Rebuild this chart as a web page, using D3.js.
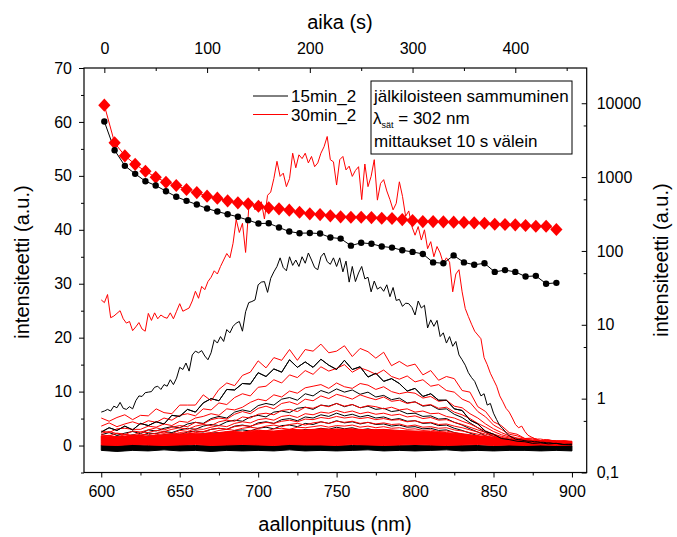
<!DOCTYPE html>
<html>
<head>
<meta charset="utf-8">
<script src="https://cdn.jsdelivr.net/npm/d3@7"></script>
<style>
  body { margin: 0; background: #fff; }
  svg { display: block; }
  text { font-family: "Liberation Sans", Arial, sans-serif; fill: #000; }
</style>
</head>
<body>
<svg id="chart" width="677" height="537"></svg>
<script>
// ---------- wavelength grids (nm) ----------
const wavelengthFine = [600,602,604,606,608,610,612,614,616,618,620,622,624,626,628,630,632,634,636,638,
  640,642,644,646,648,650,652,654,656,658,660,662,664,666,668,670,672,674,676,678,
  680,682,684,686,688,690,692,694,696,698,700,702,704,706,708,710,712,714,716,718,
  720,722,724,726,728,730,732,734,736,738,740,742,744,746,748,750,752,754,756,758,
  760,762,764,766,768,770,772,774,776,778,780,782,784,786,788,790,792,794,796,798,
  800,802,804,806,808,810,812,814,816,818,820,822,824,826,828,830,832,834,836,838,
  840,842,844,846,848,850,852,854,856,858,860,862,864,866,868,870,872,874,876,878,
  880,882,884,886,888,890,892,894,896,898,900];
const wavelength5 = [600,605,610,615,620,625,630,635,640,645,650,655,660,665,670,675,680,685,690,695,
  700,705,710,715,720,725,730,735,740,745,750,755,760,765,770,775,780,785,790,795,
  800,805,810,815,820,825,830,835,840,845,850,855,860,865,870,875,880,885,890,895,900];
const wavelength10 = [600,610,620,630,640,650,660,670,680,690,700,710,720,730,740,750,
  760,770,780,790,800,810,820,830,840,850,860,870,880,890,900];

// ---------- first spectra of each run (a.u.) ----------
const spec30_first = [27,26.5,28,23.7,24,24.5,25,23.5,22.7,23,
  21.3,22,22.8,21.6,21.2,24.5,23.2,24.6,23.5,24.2,
  23.8,23.6,24.6,23.5,24.9,26.3,24.9,25.2,25.5,26.8,
  28.6,27.3,29.5,28.9,30.4,31.2,32.4,31.8,33.2,34.4,
  35.6,34.8,37.5,41.9,39.5,41.2,35.8,44,45.2,43.7,
  44.6,45.2,42,46.4,47,49.5,52.7,49.9,50.5,48,
  49.5,54.2,51.5,53.9,53.2,54.2,52.4,53.6,51.7,52.4,
  54.2,55.4,57.3,53,52.6,48.3,53,53.6,51.1,51.8,
  49.9,51,51.7,45.6,52.2,48,49.9,53,45.5,48.6,
  49.3,47.2,45.6,43.7,44.9,48.9,46.2,42.5,43.5,40.6,
  39,40.6,38.1,40,36.5,37.8,35,36.9,35.7,33.8,
  34.8,34,28.5,31.8,32.6,28.5,25.4,23.9,22.5,21.2,
  20.5,19.8,16.3,15,13.4,12.2,11,9.2,8.1,6.9,
  6.2,5.1,3.9,3.3,3.6,2.6,1.9,1.6,1.3,1.2,
  1.2,1.1,1.1,1,0.9,0.8,0.8,0.7,0.6,0.5,
  0.5];
const spec15_first = [6.2,6.4,6.7,6.4,7.3,7,8,6.9,6.7,7.2,
  6.8,8.3,9.2,9.1,9.8,9.9,10,10.8,11,10.4,
  11.3,11,12.2,11.3,12.5,14.5,14.1,15.3,13.8,16.8,
  17.5,17.2,17.6,16.6,15.9,17.2,19.6,19,20.2,19.3,
  21.5,20.9,22.1,22.7,23,21.2,24.8,26.5,26.7,27,
  29.8,30.3,30.4,28.4,31,32.2,33.2,34.8,33,32.4,
  35,33.4,34.4,33.2,35,33.8,35.7,34.4,33,32.6,
  35,35.7,34.1,33.6,34.8,33.2,34.8,32.2,34.2,30.3,
  33.2,30.4,32,33.2,30.9,31.2,28.5,30.5,29,29.4,
  28.6,29.8,27.6,29.3,26.9,27.1,25.8,26.4,26.3,25.6,
  24.2,26.8,25.5,26,21.8,23.3,22.1,23.2,20.2,20.9,
  19,20.2,18.4,19.3,16.8,15.9,14.9,13.5,12.6,11.9,
  10.5,9.2,9.6,7.5,7.8,6,4.8,3.7,3.1,2.4,
  1.8,1.5,1.2,1.1,1,0.9,0.8,0.8,0.7,0.7,
  0.6,0.6,0.5,0.5,0.4,0.4,0.3,0.2,0.2,0.2,
  0.2];

// ---------- later spectra, 30min_2 (5 nm steps) ----------
const spec30_b = [5.1,4.5,5.2,5.7,4.8,5.6,5.5,6.8,6.1,5.9, 7.5,7.5,7.5,9.4,8.3,10.4,11.6,11.1,13.0,13.6,
  15.7,14.4,16.3,15.8,17.8,15.8,17.8,17.5,18.8,17.2, 17.5,18.5,16.5,18.0,17.4,16.2,17.3,14.8,15.6,14.7,
  15.1,13.1,13.9,12.1,12.8,12.4,10.2,9.9,7.2,6.3, 4.4,3.7,2.4,2.1,1.3,1.4,0.9,1.0,0.7,0.9, 0.7];
const spec30_c = [3.6,4.2,3.5,4.0,4.4,3.9,4.6,4.3,5.1,4.7, 5.6,5.9,5.5,6.8,6.6,7.9,7.6,8.9,9.6,9.2,
  10.8,11.0,12.2,11.6,13.1,12.6,13.9,13.2,14.6,13.8, 14.3,15.0,13.6,14.4,13.9,13.2,14.0,12.8,12.3,12.9,
  11.8,12.2,11.0,11.3,10.2,9.9,8.6,8.0,6.3,5.3, 3.8,3.0,2.1,1.8,1.3,1.2,0.9,1.0,0.8,0.8, 0.7];
const spec30_d = [2.7,2.4,3.1,3.2,3.0,3.0,3.6,3.4,4.0,3.7, 4.5,4.3,5.1,5.4,5.9,5.6,6.8,6.6,7.1,8.0,
  8.6,8.3,9.4,9.0,10.1,9.7,10.7,11.0,11.3,10.6, 11.6,10.9,10.6,11.5,11.2,10.4,10.9,10.0,9.6,9.9,
  9.7,8.8,9.1,8.2,8.4,7.3,7.0,5.9,5.1,4.0, 3.1,2.4,1.8,1.4,1.2,1.0,0.9,0.8,0.8,0.7, 0.7];
const spec30_e = [2.3,2.6,2.2,2.0,2.7,2.5,2.9,3.3,2.9,3.4, 3.7,3.5,4.3,4.0,4.8,5.1,4.9,5.8,6.3,5.9,
  6.9,7.3,6.8,7.8,8.1,7.6,8.6,8.3,9.2,8.7, 9.5,9.1,8.6,9.4,8.9,8.5,9.0,8.2,8.4,7.8,
  8.1,7.4,7.6,6.9,7.1,6.2,5.7,5.0,4.1,3.4, 2.6,2.0,1.6,1.3,1.1,0.9,0.9,0.8,0.7,0.8, 0.7];
const spec30_f = [2.0,1.8,2.3,2.1,1.9,2.5,2.4,2.8,2.6,3.0, 3.3,3.0,3.6,3.9,3.7,4.4,4.7,4.5,5.3,5.1,
  5.8,6.0,5.7,6.5,6.7,6.3,7.1,6.9,7.5,7.2, 7.8,7.3,7.6,7.0,7.4,7.2,6.8,7.1,6.6,6.8,
  6.2,6.4,5.9,6.0,5.4,5.1,4.5,4.0,3.3,2.7, 2.1,1.7,1.4,1.1,1.0,0.9,0.8,0.8,0.7,0.7, 0.6];
const spec30_g = [1.7,1.9,1.6,2.0,1.8,2.1,2.0,2.3,2.5,2.2, 2.8,2.6,3.1,3.0,3.4,3.7,3.5,4.1,4.4,4.2,
  4.8,5.0,4.7,5.4,5.6,5.2,5.9,5.7,6.2,6.0, 6.5,6.1,6.4,5.9,6.2,5.8,6.0,5.6,5.8,5.3,
  5.5,5.0,5.2,4.7,4.8,4.3,3.9,3.4,2.9,2.4, 1.9,1.5,1.2,1.0,0.9,0.8,0.8,0.7,0.7,0.6, 0.6];
const spec30_h = [1.5,1.4,1.7,1.5,1.6,1.9,1.7,2.0,2.2,2.0, 2.4,2.3,2.7,2.6,3.0,3.2,3.0,3.5,3.7,3.6,
  4.0,4.3,4.1,4.5,4.7,4.4,4.9,4.8,5.2,5.0, 5.4,5.1,5.3,5.0,5.2,4.8,5.0,4.7,4.8,4.4,
  4.6,4.2,4.3,3.9,4.0,3.6,3.3,2.9,2.5,2.1, 1.7,1.4,1.1,1.0,0.9,0.8,0.7,0.7,0.6,0.6, 0.6];
const spec30_i = [1.3,1.5,1.2,1.4,1.6,1.4,1.7,1.9,1.7,2.0, 2.2,2.0,2.4,2.6,2.4,2.8,3.0,2.8,3.2,3.4,
  3.2,3.6,3.8,3.5,3.9,4.1,3.8,4.2,4.4,4.1, 4.5,4.3,4.5,4.1,4.3,4.0,4.2,3.9,4.0,3.6,
  3.8,3.4,3.5,3.2,3.3,2.9,2.7,2.4,2.1,1.8, 1.5,1.3,1.1,1.0,0.9,0.8,0.8,0.7,0.7,0.6, 0.6];
const spec30_j = [1.2,1.1,1.4,1.2,1.3,1.6,1.4,1.6,1.8,1.6, 1.9,2.0,1.9,2.2,2.3,2.1,2.5,2.6,2.4,2.8,
  2.9,2.7,3.1,3.2,3.0,3.4,3.3,3.5,3.7,3.4, 3.7,3.6,3.8,3.4,3.6,3.3,3.5,3.2,3.3,3.0,
  3.1,2.8,2.9,2.6,2.7,2.4,2.2,2.0,1.8,1.5, 1.3,1.1,1.0,0.9,0.8,0.8,0.7,0.7,0.6,0.7, 0.6];
const spec30_k = [1.0,1.2,1.0,1.1,1.3,1.1,1.3,1.4,1.3,1.5, 1.6,1.5,1.8,1.7,1.9,2.0,1.9,2.2,2.1,2.3,
  2.4,2.3,2.6,2.5,2.7,2.8,2.6,2.9,3.0,2.8, 3.1,2.9,3.0,2.8,3.0,2.7,2.8,2.6,2.7,2.5,
  2.5,2.3,2.4,2.1,2.2,1.9,1.8,1.6,1.5,1.3, 1.1,1.0,0.9,0.8,0.8,0.7,0.7,0.6,0.6,0.6, 0.5];

// ---------- later spectra, 15min_2 (5 nm steps) ----------
const spec15_b = [2.5,3.3,2.8,3.6,2.9,4.1,3.7,4.4,4.0,5.6, 5.4,6.7,6.2,7.9,8.7,8.3,10.4,10.3,11.5,11.4,
  13.5,12.8,14.2,13.6,15.9,14.5,15.5,14.5,16.0,14.9, 14.1,15.8,14.1,14.6,12.7,13.4,11.9,12.4,11.5,10.1,
  10.6,9.1,9.6,8.4,8.4,6.8,6.5,4.7,4.0,2.6, 2.1,1.3,1.1,0.8,0.7,0.4,0.5,0.3,0.4,0.2, 0.3];
const spec15_c = [2.0,2.4,1.9,2.3,2.6,2.2,2.9,2.7,3.2,3.5, 3.3,4.0,4.3,4.1,5.0,5.4,5.1,6.2,6.6,6.3,
  7.4,7.8,7.5,8.6,8.9,8.4,9.6,9.2,10.2,9.7, 10.5,9.9,10.3,9.5,9.9,9.0,9.3,8.5,8.8,7.9,
  8.1,7.3,7.5,6.7,6.8,5.8,5.2,4.2,3.3,2.4, 1.7,1.2,0.8,0.6,0.4,0.3,0.2,0.2,0.1,0.1, 0.0];
const spec15_d = [1.6,1.3,1.8,1.6,2.0,1.8,2.3,2.2,2.6,2.4, 2.9,3.2,3.0,3.6,3.9,3.7,4.4,4.7,4.5,5.3,
  5.6,5.3,6.2,6.4,6.1,6.9,7.1,6.7,7.5,7.3, 7.8,7.2,7.6,7.0,7.3,6.7,6.9,6.3,6.5,5.9,
  6.0,5.4,5.5,4.9,5.0,4.3,3.8,3.1,2.5,1.8, 1.3,0.9,0.6,0.4,0.3,0.2,0.1,0.1,0.0,0.0, -0.1];
const spec15_e = [1.2,1.0,1.4,1.3,1.6,1.4,1.8,1.7,2.0,2.2, 2.0,2.5,2.7,2.5,3.0,3.2,3.0,3.6,3.8,3.5,
  4.2,4.4,4.1,4.8,5.0,4.6,5.3,5.1,5.7,5.4, 6.0,5.5,5.8,5.3,5.6,5.1,5.3,4.8,5.0,4.5,
  4.6,4.1,4.2,3.7,3.8,3.2,2.8,2.3,1.8,1.3, 0.9,0.6,0.4,0.2,0.1,0.1,0.0,0.0,-0.1,-0.1, -0.1];
const spec15_f = [0.9,1.1,0.8,1.0,1.2,1.1,1.4,1.2,1.5,1.7, 1.5,1.9,2.0,1.9,2.3,2.4,2.3,2.8,2.9,2.7,
  3.2,3.4,3.1,3.7,3.8,3.5,4.1,3.9,4.4,4.1, 4.6,4.2,4.4,4.0,4.3,3.9,4.0,3.6,3.8,3.4,
  3.5,3.1,3.2,2.8,2.9,2.4,2.1,1.7,1.3,1.0, 0.7,0.4,0.3,0.1,0.1,0.0,0.0,-0.1,-0.1,-0.1, -0.2];
const spec15_g = [0.6,0.8,0.5,0.7,0.9,0.7,1.0,0.9,1.1,1.3, 1.1,1.4,1.5,1.4,1.7,1.8,1.7,2.1,2.2,2.0,
  2.4,2.5,2.3,2.7,2.8,2.6,3.0,2.9,3.2,3.0, 3.4,3.1,3.3,2.9,3.1,2.8,2.9,2.6,2.7,2.4,
  2.5,2.2,2.3,2.0,2.0,1.7,1.5,1.2,0.9,0.7, 0.4,0.3,0.1,0.0,0.0,-0.1,-0.1,-0.1,-0.2,-0.2, -0.2];

// ---------- dense bands of the last, weak spectra (10 nm steps) ----------
const band30_low  = [0.1,0.0,0.2,0.1,0.0,0.1,0.2,0.0,0.1,0.2,0.1,0.0,0.2,0.1,0.1,0.0,0.2,0.1,0.0,0.1,0.2,0.1,0.0,0.1,0.2,0.0,0.1,0.0,0.1,0.0,0.1];
const band30_high = [1.8,1.6,1.9,1.7,2.0,2.1,2.3,2.2,2.6,2.5,2.8,2.7,3.0,2.9,3.1,3.0,3.1,2.9,3.0,2.8,2.7,2.6,2.4,2.1,1.8,1.5,1.2,1.0,0.9,0.9,0.8];
const band15_low  = [-0.9,-1.1,-0.9,-1.0,-0.8,-1.0,-0.9,-1.1,-0.9,-1.0,-0.9,-1.0,-0.8,-1.0,-0.9,-1.0,-0.9,-0.8,-1.0,-0.9,-1.0,-0.9,-0.8,-1.0,-0.9,-1.0,-0.9,-0.9,-1.0,-0.9,-1.0];
const band15_high = [0.1,0.0,0.2,0.0,0.1,0.2,0.0,0.1,0.2,0.1,0.2,0.0,0.2,0.1,0.2,0.1,0.0,0.2,0.1,0.0,0.1,0.0,0.1,0.0,0.0,-0.1,0.0,-0.1,0.0,-0.1,0.0];

// ---------- integrated intensity vs. time (right log axis) ----------
const times = [0,10,20,30,40,50,60,70,80,90,100,110,120,130,140,150,160,170,180,190,200,210,
  220,230,240,250,260,270,280,290,300,310,320,330,340,350,360,370,380,390,400,410,420,430,440];
const decay30 = [9400,2910,1940,1490,1200,995,852,769,679,618,551,518,477,448,435,403,384,372,356,334,318,311,
  299,290,286,286,283,277,275,266,258,250,250,248,245,243,240,237,230,228,226,221,216,216,195];
const decay15 = [5650,2310,1420,1107,879,769,644,541,477,425,375,342,314,290,261,235,237,208,183,174,175,172,
  152,147,118,129,125,115,111,102,97,91,70,68,87,70,65,68,52,55,52,45,46,36,37];

// ---------- ticks ----------
const xTicks = [600,650,700,750,800,850,900];
const xMinorTicks = [625,675,725,775,825,875];
const timeTicks = [0,100,200,300,400];
const timeMinorTicks = [50,150,250,350,450];
const leftTicks = [0,10,20,30,40,50,60,70];
const leftMinorTicks = [-5,5,15,25,35,45,55,65];
const rightTicks = [0.1,1,10,100,1000,10000];
const rightTickLabels = ["0,1","1","10","100","1000","10000"];
const rightMinorTicks = [0.5,5,50,500,5000];

const legendLabels = ["15min_2","30min_2"];
const noteLines = ["jälkiloisteen sammuminen","mittaukset 10 s välein"];

// ---------- layout ----------
const L = 84, R = 586.7, T = 68, B = 472.5;
const RED = "#ff0000", BLACK = "#000000";

const x = d3.scaleLinear().domain([589, 909.4]).range([L, R]);
const xTime = d3.scaleLinear().domain([-19.8, 469.5]).range([L, R]);
const y = d3.scaleLinear().domain([-5, 70]).range([B, T]);
const yLog = d3.scaleLog().domain([0.1, 30000]).range([B, T]);

const svg = d3.select("#chart");
svg.append("defs").append("clipPath").attr("id", "plotClip")
  .append("rect").attr("x", L).attr("y", T).attr("width", R - L).attr("height", B - T);

const plot = svg.append("g").attr("clip-path", "url(#plotClip)");

function spectrumLine(grid) {
  return d3.line().x((d, i) => x(grid[i])).y(d => y(d));
}
function bandArea(grid, low) {
  return d3.area().x((d, i) => x(grid[i])).y0((d, i) => y(low[i])).y1(d => y(d));
}

// dense black band of the weakest 15min_2 spectra
plot.append("path").datum(band15_high)
  .attr("d", bandArea(wavelength10, band15_low))
  .attr("fill", BLACK).attr("stroke", BLACK).attr("stroke-width", 1);

// weaker 15min_2 spectra
const blacks = [spec15_g, spec15_f, spec15_e, spec15_d, spec15_c, spec15_b];
plot.selectAll("path.k5").data(blacks).join("path").attr("class", "k5")
  .attr("d", spectrumLine(wavelength5))
  .attr("fill", "none").attr("stroke", BLACK).attr("stroke-width", 1);

// dense red band of the weakest 30min_2 spectra
plot.append("path").datum(band30_high)
  .attr("d", bandArea(wavelength10, band30_low))
  .attr("fill", RED).attr("stroke", RED).attr("stroke-width", 1);

// weaker 30min_2 spectra
const reds = [spec30_k, spec30_j, spec30_i, spec30_h, spec30_g, spec30_f, spec30_e, spec30_d, spec30_c, spec30_b];
plot.selectAll("path.r5").data(reds).join("path").attr("class", "r5")
  .attr("d", spectrumLine(wavelength5))
  .attr("fill", "none").attr("stroke", RED).attr("stroke-width", 1);

// strongest 15min_2 follow-up drawn over the red group
plot.append("path").datum(spec15_b)
  .attr("d", spectrumLine(wavelength5))
  .attr("fill", "none").attr("stroke", BLACK).attr("stroke-width", 1);

// first spectra
plot.append("path").datum(spec15_first)
  .attr("d", spectrumLine(wavelengthFine))
  .attr("fill", "none").attr("stroke", BLACK).attr("stroke-width", 1);
plot.append("path").datum(spec30_first)
  .attr("d", spectrumLine(wavelengthFine))
  .attr("fill", "none").attr("stroke", RED).attr("stroke-width", 1);

// ---------- decay curves ----------
const decayLine = d3.line().x((d, i) => xTime(times[i])).y(d => yLog(d));
svg.append("path").datum(decay30).attr("d", decayLine)
  .attr("fill", "none").attr("stroke", RED).attr("stroke-width", 1);
svg.append("path").datum(decay15).attr("d", decayLine)
  .attr("fill", "none").attr("stroke", BLACK).attr("stroke-width", 1);

svg.selectAll("path.diamond").data(decay30).join("path").attr("class", "diamond")
  .attr("transform", (d, i) => `translate(${xTime(times[i])},${yLog(d)})`)
  .attr("d", "M0,-6.6L6.1,0L0,6.6L-6.1,0Z")
  .attr("fill", RED);
svg.selectAll("circle.dot").data(decay15).join("circle").attr("class", "dot")
  .attr("cx", (d, i) => xTime(times[i])).attr("cy", d => yLog(d))
  .attr("r", 3.2).attr("fill", BLACK);

// ---------- axes ----------
function styleAxis(g) {
  g.select(".domain").remove();
  g.selectAll("line").attr("stroke", BLACK).attr("stroke-width", 1);
  g.selectAll("text").attr("font-size", 16).attr("fill", BLACK)
    .attr("font-family", '"Liberation Sans", Arial, sans-serif');
}

svg.append("g").attr("transform", `translate(0,${B})`)
  .call(d3.axisBottom(x).tickValues(xTicks).tickSize(5).tickPadding(8).tickFormat(d3.format("d")))
  .call(styleAxis);
svg.append("g").attr("transform", `translate(0,${B})`)
  .call(d3.axisBottom(x).tickValues(xMinorTicks).tickSize(3).tickFormat(""))
  .call(styleAxis);

svg.append("g").attr("transform", `translate(0,${T})`)
  .call(d3.axisTop(xTime).tickValues(timeTicks).tickSize(-5).tickPadding(14).tickFormat(d3.format("d")))
  .call(styleAxis);
svg.append("g").attr("transform", `translate(0,${T})`)
  .call(d3.axisTop(xTime).tickValues(timeMinorTicks).tickSize(-3).tickFormat(""))
  .call(styleAxis);

svg.append("g").attr("transform", `translate(${L},0)`)
  .call(d3.axisLeft(y).tickValues(leftTicks).tickSize(5).tickPadding(7).tickFormat(d3.format("d")))
  .call(styleAxis);
svg.append("g").attr("transform", `translate(${L},0)`)
  .call(d3.axisLeft(y).tickValues(leftMinorTicks).tickSize(3).tickFormat(""))
  .call(styleAxis);

svg.append("g").attr("transform", `translate(${R},0)`)
  .call(d3.axisRight(yLog).tickValues(rightTicks).tickSize(-5).tickPadding(10)
    .tickFormat((d, i) => rightTickLabels[i]))
  .call(styleAxis);
svg.append("g").attr("transform", `translate(${R},0)`)
  .call(d3.axisRight(yLog).tickValues(rightMinorTicks).tickSize(-3).tickFormat(""))
  .call(styleAxis);

// frame
svg.append("rect").attr("x", L).attr("y", T).attr("width", R - L).attr("height", B - T)
  .attr("fill", "none").attr("stroke", BLACK).attr("stroke-width", 1.2);

// ---------- axis titles ----------
svg.append("text").attr("x", 335).attr("y", 531).attr("text-anchor", "middle")
  .attr("font-size", 20).text("aallonpituus (nm)");
svg.append("text").attr("x", 340).attr("y", 29).attr("text-anchor", "middle")
  .attr("font-size", 20).text("aika (s)");
svg.append("text").attr("transform", "translate(29,262) rotate(-90)").attr("text-anchor", "middle")
  .attr("font-size", 20).text("intensiteetti (a.u.)");
svg.append("text").attr("transform", "translate(668,260) rotate(-90)").attr("text-anchor", "middle")
  .attr("font-size", 20).text("intensiteetti (a.u.)");

// ---------- legend ----------
const legendColors = [BLACK, RED];
const legendY = [96, 114.5];
legendLabels.forEach((lab, i) => {
  svg.append("line").attr("x1", 253).attr("x2", 288).attr("y1", legendY[i]).attr("y2", legendY[i])
    .attr("stroke", legendColors[i]).attr("stroke-width", 1);
  svg.append("text").attr("x", 291).attr("y", legendY[i] + 6.3).attr("font-size", 17).text(lab);
});

// ---------- note box ----------
svg.append("rect").attr("x", 371).attr("y", 81).attr("width", 201).attr("height", 73)
  .attr("fill", "#fff").attr("stroke", BLACK).attr("stroke-width", 1);
svg.append("text").attr("x", 374).attr("y", 101.5).attr("font-size", 17).text(noteLines[0]);
const lam = svg.append("text").attr("x", 373).attr("y", 124).attr("font-size", 17);
lam.append("tspan").text("λ");
lam.append("tspan").attr("font-size", 9).attr("dy", 3.5).text("sät");
lam.append("tspan").attr("dy", -3.5).text(" = 302 nm");
svg.append("text").attr("x", 374).attr("y", 146.5).attr("font-size", 17).text(noteLines[1]);
</script>
</body>
</html>
